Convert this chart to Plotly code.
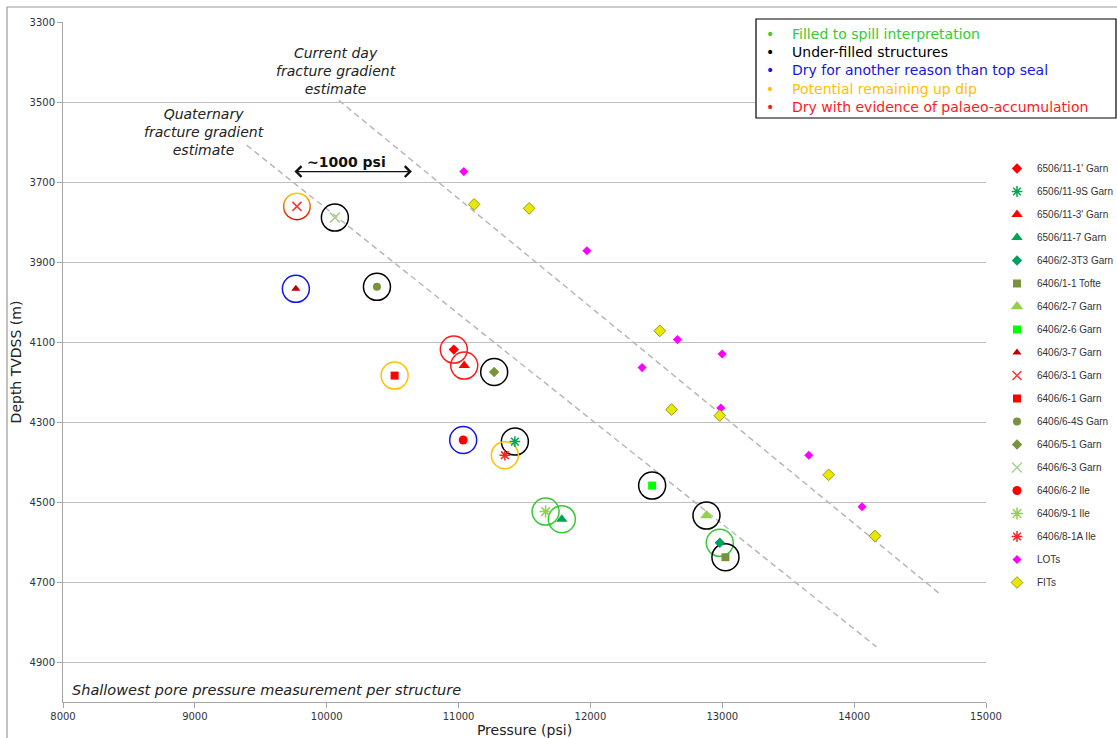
import plotly.graph_objects as go

# ---------------- data ----------------
wells = ["6506/11-1' Garn", "6506/11-9S Garn", "6506/11-3' Garn", "6506/11-7 Garn",
         "6406/2-3T3 Garn", "6406/1-1 Tofte", "6406/2-7 Garn", "6406/2-6 Garn",
         "6406/3-7 Garn", "6406/3-1 Garn", "6406/6-1 Garn", "6406/6-4S Garn",
         "6406/5-1 Garn", "6406/6-3 Garn", "6406/6-2 Ile", "6406/9-1 Ile",
         "6406/8-1A Ile"]
well_pressure = [10964, 11427, 11043, 11783, 12981, 13024, 12880, 12468,
                 9766, 9774, 10515, 10381, 11270, 10062, 11035, 11660, 11351]
well_depth = [4119, 4349, 4159, 4543, 4602, 4638, 4534, 4459,
              3967, 3761, 4184, 3962, 4175, 3789, 4345, 4524, 4383]
well_category = ["palaeo", "under", "palaeo", "filled", "filled", "under", "under", "under",
                 "dry_other", "potential_palaeo", "potential", "under", "under", "under",
                 "dry_other", "filled", "potential"]

lot_pressure = [11040, 11973, 12660, 12999, 12392, 12989, 13656, 14060]
lot_depth = [3674, 3872, 4094, 4130, 4164, 4265, 4383, 4512]
fit_pressure = [11118, 11535, 12526, 12615, 12981, 13807, 14158]
fit_depth = [3756, 3766, 4072, 4269, 4284, 4432, 4585]

current_fg_pressure = [10092, 14662]
current_fg_depth = [3496, 4733]
quaternary_fg_pressure = [9393, 14169]
quaternary_fg_depth = [3608, 4862]

psi_arrow_pressure = [9744, 10646]
psi_arrow_depth = 3674

x_ticks = [8000, 9000, 10000, 11000, 12000, 13000, 14000, 15000]
y_ticks = [3300, 3500, 3700, 3900, 4100, 4300, 4500, 4700, 4900]

category_labels = {
    "filled": "Filled to spill interpretation",
    "under": "Under-filled structures",
    "dry_other": "Dry for another reason than top seal",
    "potential": "Potential remaining up dip",
    "palaeo": "Dry with evidence of palaeo-accumulation",
}

# ---------------- styles ----------------
category_color = {"filled": "#33CC33", "under": "#000000", "dry_other": "#1515E6",
                  "potential": "#FFC000", "palaeo": "#FF1A1A"}
well_symbol = ["diamond", "asterisk-open", "triangle-up", "triangle-up",
               "diamond", "square", "triangle-up", "square",
               "triangle-up", "x-thin-open", "square", "circle",
               "diamond", "x-thin-open", "circle", "asterisk-open", "asterisk-open"]
well_color = ["#FF0000", "#00A651", "#FF0000", "#00A651",
              "#00A060", "#77933C", "#92D050", "#00FF00",
              "#C00000", "#FF3333", "#FF0000", "#77933C",
              "#77933C", "#A9D18E", "#FF0000", "#92D050", "#FF2222"]
well_size = [8, 9, 10, 10, 8, 8, 11, 8, 8, 9, 8, 8, 8, 10, 9, 10, 9]

BASE = "DejaVu Sans"

# plot-area geometry in pixels
L, R, T, B = 63, 986, 22, 702
PW, PH = R - L, B - T


def px_x(p):
    return (p - L) / PW


def px_y(p):
    return 1 - (p - T) / PH


fig = go.Figure()

# fracture gradient lines
for px, dy in [(current_fg_pressure, current_fg_depth), (quaternary_fg_pressure, quaternary_fg_depth)]:
    fig.add_trace(go.Scatter(x=px, y=dy, mode="lines", showlegend=False, hoverinfo="skip",
                             line=dict(color="#B8B8B8", width=1.5, dash="6px,4px")))

# interpretation rings
for cat, col in category_color.items():
    xs = [p for p, c in zip(well_pressure, well_category) if c == cat]
    ys = [d for d, c in zip(well_depth, well_category) if c == cat]
    if xs:
        fig.add_trace(go.Scatter(x=xs, y=ys, mode="markers", showlegend=False, hoverinfo="skip",
                                 marker=dict(symbol="circle-open", size=27, color=col,
                                             line=dict(color=col, width=1.5))))
# two-colour ring (potential + palaeo)
xs = [p for p, c in zip(well_pressure, well_category) if c == "potential_palaeo"]
ys = [d for d, c in zip(well_depth, well_category) if c == "potential_palaeo"]
fig.add_trace(go.Scatter(x=xs, y=ys, mode="markers", showlegend=False, hoverinfo="skip",
                         marker=dict(symbol="circle", size=28, color="#FFD000",
                                     gradient=dict(type="vertical", color="#E00000"),
                                     line=dict(width=0))))
fig.add_trace(go.Scatter(x=xs, y=ys, mode="markers", showlegend=False, hoverinfo="skip",
                         marker=dict(symbol="circle", size=25, color="white", line=dict(width=0))))

# well points (legend)
for i, name in enumerate(wells):
    fig.add_trace(go.Scatter(
        x=[well_pressure[i]], y=[well_depth[i]], mode="markers", name=name,
        legendgroup=name,
        marker=dict(symbol=well_symbol[i], size=well_size[i], color=well_color[i],
                    line=dict(color=well_color[i], width=1.5 if "open" in well_symbol[i] else 0))))

fig.add_trace(go.Scatter(x=lot_pressure, y=lot_depth, mode="markers", name="LOTs", legendgroup="LOTs",
                         marker=dict(symbol="diamond", size=7, color="#FF00FF", line=dict(width=0))))
fig.add_trace(go.Scatter(x=fit_pressure, y=fit_depth, mode="markers", name="FITs", legendgroup="FITs",
                         marker=dict(symbol="diamond", size=9, color="#E8E800",
                                     line=dict(color="#9A9A20", width=1))))

annotations = [
    dict(x=10070, y=3423, xref="x", yref="y", showarrow=False,
         text="<i>Current day<br>fracture gradient<br>estimate</i>",
         font=dict(family=BASE, size=14, color="#222")),
    dict(x=9069, y=3574, xref="x", yref="y", showarrow=False,
         text="<i>Quaternary<br>fracture gradient<br>estimate</i>",
         font=dict(family=BASE, size=14, color="#222")),
    dict(x=10153, y=3649, xref="x", yref="y", showarrow=False, text="<b>~1000 psi</b>",
         font=dict(family=BASE, size=14, color="#111")),
    dict(x=psi_arrow_pressure[1], y=psi_arrow_depth, ax=psi_arrow_pressure[0], ay=psi_arrow_depth,
         xref="x", yref="y", axref="x", ayref="y", text="", showarrow=True,
         arrowhead=4, startarrowhead=4, arrowside="end+start", arrowsize=1.6, arrowwidth=1.3,
         arrowcolor="#111"),
    dict(x=px_x(70), y=px_y(690), xref="paper", yref="paper", xanchor="left",
         yanchor="middle", showarrow=False,
         text="<i>Shallowest pore pressure measurement per structure</i>",
         font=dict(family=BASE, size=14.5, color="#222")),
]

box_lines = []
for cat in ["filled", "under", "dry_other", "potential", "palaeo"]:
    col = category_color[cat]
    box_lines.append(f"<span style='color:{col}'>•&nbsp;&nbsp;&nbsp;&nbsp;{category_labels[cat]}</span>")
annotations.append(dict(x=px_x(764), y=px_y(24), xref="paper", yref="paper",
                        xanchor="left", yanchor="top", align="left", showarrow=False,
                        text="<br>".join(box_lines),
                        font=dict(family=BASE, size=14)))

shapes = [
    dict(type="rect", xref="paper", yref="paper", x0=px_x(7), x1=px_x(1125),
         y0=px_y(800), y1=px_y(7), line=dict(color="#9A9A9A", width=1.2),
         fillcolor="rgba(0,0,0,0)", layer="below"),
    dict(type="rect", xref="paper", yref="paper", x0=px_x(756), x1=px_x(1116),
         y0=px_y(118), y1=px_y(19), line=dict(color="#000", width=1.2),
         fillcolor="white", layer="above"),
]

fig.update_layout(
    width=1117, height=738,
    margin=dict(l=L, r=1117 - R, t=T, b=738 - B, autoexpand=False),
    paper_bgcolor="white", plot_bgcolor="white",
    font=dict(family=BASE, size=10, color="#333"),
    showlegend=True,
    legend=dict(x=px_x(997), y=px_y(154), xanchor="left", yanchor="top",
                traceorder="grouped", tracegroupgap=4, bgcolor="rgba(0,0,0,0)",
                font=dict(family="Liberation Sans", size=10, color="#333"), itemwidth=30),
    xaxis=dict(range=[8000, 15000], tickvals=x_ticks, tickformat="d", showgrid=False, zeroline=False,
               showline=True, linecolor="#A6A6A6", linewidth=1, ticks="outside", ticklen=5,
               tickcolor="#A6A6A6", tickfont=dict(family=BASE, size=10, color="#333"),
               automargin=False,
               title=dict(text="Pressure (psi)", font=dict(family=BASE, size=14, color="#222"),
                          standoff=6)),
    yaxis=dict(range=[5000, 3300], tickvals=y_ticks, tickformat="d", showgrid=True, gridcolor="#BFBFBF",
               gridwidth=1, zeroline=False, showline=True, linecolor="#A6A6A6", linewidth=1,
               ticks="outside", ticklen=5, tickcolor="#A6A6A6", automargin=False,
               tickfont=dict(family=BASE, size=10, color="#333"),
               title=dict(text="Depth TVDSS (m)", font=dict(family=BASE, size=14, color="#222"),
                          standoff=4)),
    annotations=annotations,
    shapes=shapes,
)

fig.write_html("out.html", config={"displayModeBar": False},
               post_script="document.body.style.margin='0';document.body.style.overflow='hidden';")
